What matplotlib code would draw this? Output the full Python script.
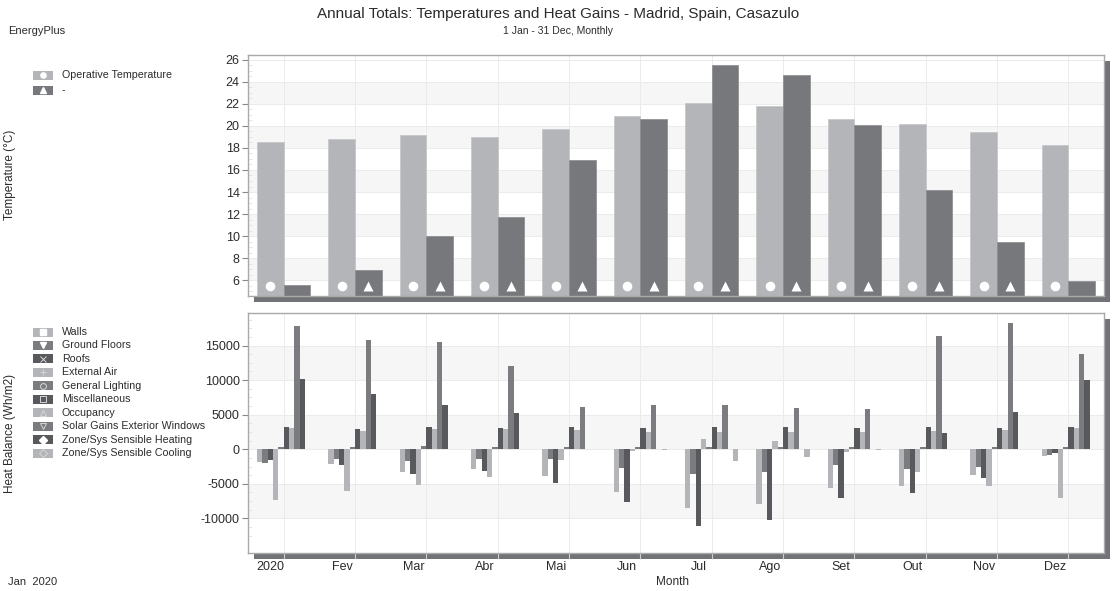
import matplotlib
matplotlib.use('Agg')
import matplotlib.pyplot as plt
import numpy as np
from matplotlib.patches import Rectangle
from matplotlib.lines import Line2D
from matplotlib.transforms import ScaledTranslation

plt.rcParams['font.family'] = ['Liberation Sans', 'DejaVu Sans']
plt.rcParams['axes.unicode_minus'] = False

# ---- data ----
months = ['2020', 'Fev', 'Mar', 'Abr', 'Mai', 'Jun', 'Jul', 'Ago', 'Set', 'Out', 'Nov', 'Dez']
operative_temp = [18.52, 18.82, 19.18, 19.03, 19.73, 20.91, 22.12, 21.85, 20.67, 20.15, 19.45, 18.24]
other_temp = [5.57, 6.91, 10.03, 11.73, 16.91, 20.60, 25.52, 24.67, 20.06, 14.18, 9.45, 5.91]

walls = [-1790, -2195, -3226, -2822, -3898, -6182, -8557, -7930, -5600, -5286, -3763, -986]
ground_floors = [-1926, -1434, -1658, -1344, -1434, -2643, -3629, -3360, -2330, -2867, -2509, -806]
roofs = [-1568, -2285, -3629, -3091, -4883, -7661, -11110, -10259, -6989, -6362, -4166, -493]
external_air = [-7302, -6093, -5197, -3987, -1568, -269, 1478, 1210, -358, -3270, -5376, -7034]
general_lighting = [358, 269, 403, 358, 358, 358, 358, 314, 358, 358, 358, 358]
miscellaneous = [3270, 2957, 3270, 3136, 3270, 3136, 3270, 3270, 3136, 3226, 3136, 3226]
occupancy = [3002, 2688, 2912, 2867, 2778, 2464, 2464, 2464, 2554, 2688, 2733, 3091]
solar_gains = [17875, 15859, 15501, 12096, 6048, 6362, 6406, 5958, 5824, 16442, 18278, 13754]
sensible_heating = [10170, 7974, 6406, 5286, 0, 0, 0, 0, 0, 2330, 5331, 9990]
sensible_cooling = [0, 0, 0, 0, 0, -134, -1702, -1165, -134, 0, 0, 0]

heat_names = ['Walls', 'Ground Floors', 'Roofs', 'External Air', 'General Lighting',
              'Miscellaneous', 'Occupancy', 'Solar Gains Exterior Windows',
              'Zone/Sys Sensible Heating', 'Zone/Sys Sensible Cooling']
heat_series = [walls, ground_floors, roofs, external_air, general_lighting,
               miscellaneous, occupancy, solar_gains, sensible_heating, sensible_cooling]

# ---- style ----
LIGHT = '#b4b5b9'
MID = '#7b7c80'
DARK = '#58595d'
TOP_DARK = '#77787c'
SHADOW = '#727377'
FRAME = '#a9a9a9'
BAND = '#f6f6f6'
GRID = '#ebebeb'
TXT = '#2b2b2b'
heat_colors = [LIGHT, MID, DARK] * 3 + [LIGHT]

W, H = 1118, 591
fig = plt.figure(figsize=(W / 100, H / 100), dpi=100)

# axes boxes in pixels (left, top, right, bottom)
top_box = (248, 55, 1104, 296)
bot_box = (248, 313, 1104, 553)


def to_fig(box):
    l, t, r, b = box
    return [l / W, 1 - b / H, (r - l) / W, (b - t) / H]


# overlay for drop shadows and legends (behind the plots)
ov = fig.add_axes([0, 0, 1, 1], zorder=-1)
ov.set_xlim(0, W)
ov.set_ylim(H, 0)
ov.axis('off')
for (l, t, r, b) in (top_box, bot_box):
    ov.add_patch(Rectangle((l + 6, t + 6), r - l, b - t, color=SHADOW, lw=0))

ax1 = fig.add_axes(to_fig(top_box))
ax2 = fig.add_axes(to_fig(bot_box))

x = np.arange(len(months))


def style_axes(ax, ticks, lo, hi, parity):
    ax.set_xlim(-0.5, len(months) - 0.5)
    ax.set_ylim(lo, hi)
    ax.set_facecolor('white')
    for s in ax.spines.values():
        s.set_color(FRAME)
        s.set_linewidth(1.0)
    # alternating bands
    for k in range(len(ticks) - 1):
        if k % 2 == parity:
            ax.axhspan(ticks[k], ticks[k + 1], color=BAND, lw=0, zorder=0)
    for t in ticks:
        ax.axhline(t, color=GRID, lw=0.7, zorder=0.5)
    for xi in x:
        ax.axvline(xi, color=GRID, lw=0.7, zorder=0.5)
    ax.set_yticks(ticks)
    ax.tick_params(axis='y', direction='out', length=4.5, width=0.8, color='#8a8a8a',
                   labelsize=9, labelcolor=TXT, pad=1.5)
    ax.tick_params(axis='y', which='minor', direction='in', length=3, color='#e2e2e2')


# ---- top panel: temperatures ----
bw = 0.373
top_ticks = list(range(6, 28, 2))
style_axes(ax1, top_ticks, 4.55, 26.45, 0)
ax1.set_yticks(np.arange(5, 26.5, 0.5), minor=True)
ax1.bar(x - bw / 2, operative_temp, bw, bottom=0, color=LIGHT, edgecolor='#c4c5c8', lw=0.5, zorder=2)
ax1.bar(x + bw / 2, other_temp, bw, bottom=0, color=TOP_DARK, edgecolor='#88898c', lw=0.5, zorder=2)
mark_y = 5.45
ax1.scatter(x - bw / 2, [mark_y] * len(x), s=48, marker='o', color='white', zorder=3, lw=0)
tx = [xi + bw / 2 for xi, v in zip(x, other_temp) if v > 6.5]
ax1.scatter(tx, [mark_y] * len(tx), s=52, marker='^', color='white', zorder=3, lw=0)
ax1.set_xticks(x)
ax1.tick_params(axis='x', length=0, labelbottom=False)

# ---- bottom panel: heat balance ----
hb = bw * 2 / len(heat_series)
bot_ticks = [-15000, -10000, -5000, 0, 5000, 10000, 15000]
style_axes(ax2, bot_ticks, -12600, 19700, 1)
ax2.set_yticks([-10000, -5000, 0, 5000, 10000, 15000])
ax2.set_yticks(np.arange(-12500, 19600, 1250), minor=True)
for k, (vals, col) in enumerate(zip(heat_series, heat_colors)):
    ax2.bar(x + (k - 4.5) * hb, vals, hb, color=col, lw=0, zorder=2)
ax2.set_xticks(x)
ax2.set_xticklabels(months)
ax2.tick_params(axis='x', direction='out', length=4.5, width=0.8, color='#cfcfcf',
                labelsize=9, labelcolor=TXT, pad=1.5)
shift = ScaledTranslation(-13 / 100, 0, fig.dpi_scale_trans)
for lbl in ax2.get_xticklabels():
    lbl.set_transform(lbl.get_transform() + shift)

# ---- texts ----
fig.text(0.499, 1 - 14 / H, 'Annual Totals: Temperatures and Heat Gains - Madrid, Spain, Casazulo',
         ha='center', va='center', fontsize=11, color=TXT)
fig.text(0.499, 1 - 31 / H, '1 Jan - 31 Dec, Monthly', ha='center', va='center', fontsize=7.5, color=TXT)
fig.text(8 / W, 1 - 31 / H, 'EnergyPlus', ha='left', va='center', fontsize=8, color=TXT)
fig.text(8 / W, 1 - 582 / H, 'Jan  2020', ha='left', va='center', fontsize=8, color=TXT)
fig.text(672 / W, 1 - 582 / H, 'Month', ha='center', va='center', fontsize=8.5, color=TXT)
fig.text(10 / W, 1 - 175 / H, 'Temperature (°C)', rotation=90, ha='center', va='center',
         fontsize=8.5, color=TXT)
fig.text(10 / W, 1 - 433 / H, 'Heat Balance (Wh/m2)', rotation=90, ha='center', va='center',
         fontsize=8.5, color=TXT)


# ---- legends ----
def legend_row(y, color, label, marker, filled, mcol='white'):
    ov.add_patch(Rectangle((33, y - 4.5), 20, 9, color=color, lw=0))
    if filled:
        ov.add_line(Line2D([43], [y], marker=marker, ms=3.8, color='white', mec='white', lw=0))
    else:
        ov.add_line(Line2D([43], [y], marker=marker, ms=4.2, mfc='none', mec=mcol, mew=0.7, lw=0))
    ov.text(62, y, label, ha='left', va='center', fontsize=7.7, color=TXT)


legend_row(75, LIGHT, 'Operative Temperature', 'o', True)
legend_row(90, TOP_DARK, '-', '^', True)

heat_markers = [('s', True), ('v', True), ('x', False), ('+', False), ('o', False),
                ('s', False), ('^', False), ('v', False), ('D', True), ('D', False)]
for k, (name, col, (mk, fl)) in enumerate(zip(heat_names, heat_colors, heat_markers)):
    legend_row(332 + k * 13.45, col, name, mk, fl, mcol='#d6d6d6')

fig.savefig('out.png', dpi=100, facecolor='white')
